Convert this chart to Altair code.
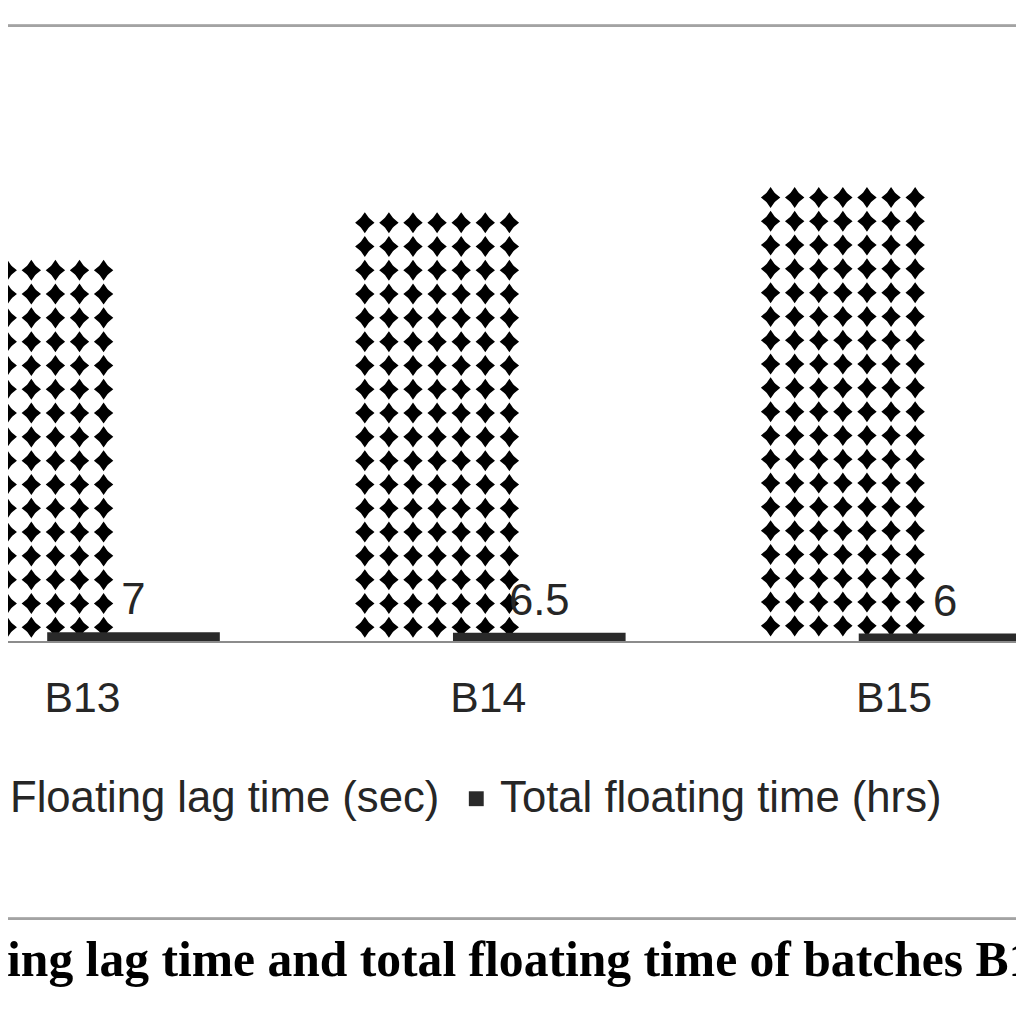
import altair as alt
import pandas as pd

# batches and the two series (tall patterned bars = lag time, short dark bars = total time)
batches = ["B13", "B14", "B15"]
lag_time = [269, 303, 321]
total_time = [7, 6.5, 6]

LAG = "Floating lag time (sec)"
TOT = "Total floating time (hrs)"
caption = "Floating lag time and total floating time of batches B13-B15"

W, H = 1016, 635

bars = pd.DataFrame({
    "batch": batches * 2,
    "series": [LAG] * 3 + [TOT] * 3,
    "value": lag_time + total_time,
})
bars["label"] = bars["value"].map(lambda v: f"{v:g}")

# diamond texture for the tall bars: one row of stars every 17 units from the bar top down
rows = []
for b, v in zip(batches, lag_time):
    y = v - 3.5
    while y >= 5:
        rows.append({"batch": b, "series": LAG, "y": y})
        y -= 17
pattern = pd.DataFrame(rows)


def star_row(n=7, w=0.115, h=0.125, s1=0.045, s2=0.06):
    # a row of n rounded four-point stars across the unit box
    parts = []
    for j in range(n):
        cx = -1 + (2 / n) * (j + 0.5)
        pts = [(0, -h), (s1, -s2), (s2, -s1), (w, 0), (s2, s1), (s1, s2),
               (0, h), (-s1, s2), (-s2, s1), (-w, 0), (-s2, -s1), (-s1, -s2)]
        parts.append("M" + " L".join(f"{cx + px:.4f},{py:.4f}" for px, py in pts) + " Z")
    return " ".join(parts)


x_enc = alt.X("batch:N",
              scale=alt.Scale(domain=batches, range=[-28, 996], paddingInner=0.4963, paddingOuter=0),
              axis=alt.Axis(title=None, domain=False, ticks=False, grid=False,
                            labelAngle=0, labelFontSize=43, labelFont="Liberation Sans",
                            labelColor="#262626", labelBaseline="alphabetic", labelPadding=70))
xo_enc = alt.XOffset("series:N",
                     scale=alt.Scale(domain=[LAG, TOT], paddingInner=0, paddingOuter=0))
y_scale = alt.Scale(domain=[0, 450], nice=False)
color_enc = alt.Color("series:N",
                      scale=alt.Scale(domain=[LAG, TOT], range=["white", "#2a2a2a"]),
                      legend=alt.Legend(title=None, orient="none", legendX=-44, legendY=771,
                                        direction="horizontal", symbolType="square",
                                        symbolSize=225, symbolStrokeWidth=0,
                                        labelFontSize=44, labelFont="Liberation Sans",
                                        labelColor="#262626", labelOffset=2,
                                        columnPadding=15, padding=0, labelLimit=1000))

base = alt.Chart(bars)

top_line = base.mark_rule(color="#a3a3a3", strokeWidth=2).encode(
    x=alt.value(0), x2=alt.value(W), y=alt.value(14))
cap_line = base.mark_rule(color="#a3a3a3", strokeWidth=2).encode(
    x=alt.value(0), x2=alt.value(W), y=alt.value(914))
baseline = base.mark_rule(color="#8c8c8c", strokeWidth=1.5).encode(
    x=alt.value(0), x2=alt.value(W), y=alt.value(H))

tall = base.transform_filter(alt.datum.series == LAG).mark_bar(width=170).encode(
    x=x_enc, xOffset=xo_enc, y=alt.Y("value:Q", scale=y_scale, axis=None), color=color_enc)

diamonds = alt.Chart(pattern).mark_point(
    shape=star_row(), size=170 * 170, filled=True, fill="black", strokeWidth=0, opacity=1
).encode(x=x_enc, xOffset=xo_enc, y=alt.Y("y:Q", scale=y_scale, axis=None))

short = base.transform_filter(alt.datum.series == TOT).mark_bar(width=174).encode(
    x=x_enc, xOffset=xo_enc, y=alt.Y("value:Q", scale=y_scale, axis=None), color=color_enc)

labels = base.transform_filter(alt.datum.series == TOT).mark_text(
    baseline="alphabetic", dy=-18, fontSize=44, font="Liberation Sans", color="#262626"
).encode(x=x_enc, xOffset=xo_enc, y=alt.Y("value:Q", scale=y_scale, axis=None), text="label:N")

# figure caption, bold serif, running past both edges like the cropped original
cap_text = alt.Chart(pd.DataFrame({"caption": [caption]})).mark_text(
    align="left", baseline="alphabetic", font="Liberation Serif", fontWeight="bold",
    fontSize=50, color="black"
).encode(x=alt.value(-112), y=alt.value(972), text="caption:N")

chart = alt.layer(top_line, cap_line, tall, diamonds, short, baseline, labels, cap_text).properties(
    width=W, height=H, autosize="none",
    padding={"left": 0, "top": 0, "right": 0, "bottom": 1008 - H},
    background="white",
).configure_view(strokeWidth=0)

chart.save("out.html", embed_options={"renderer": "svg", "actions": False})
